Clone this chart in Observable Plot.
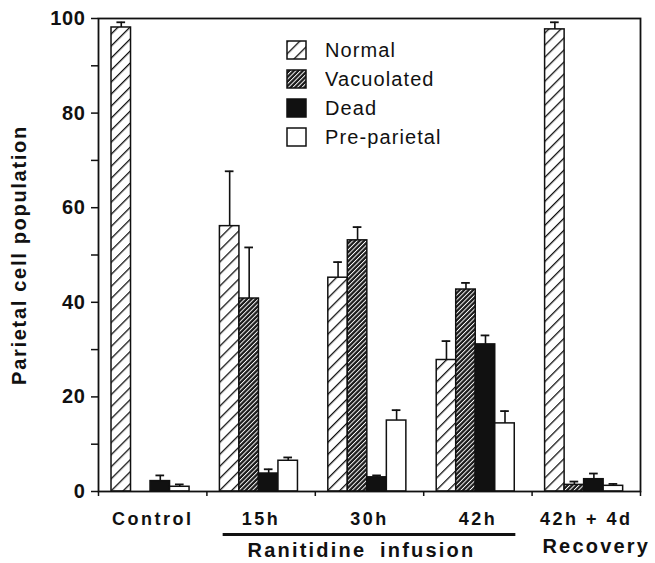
<!DOCTYPE html>
<html>
<head>
<meta charset="utf-8">
<script src="https://cdn.jsdelivr.net/npm/d3@7"></script>
<script src="https://cdn.jsdelivr.net/npm/@observablehq/plot@0.6"></script>
<style>
  body { margin: 0; background: #fff; }
  #wrap { position: relative; width: 655px; height: 563px; }
  #wrap > svg { font-family: 'Liberation Sans', Arial, Helvetica, sans-serif; font-size: 18px; font-weight: bold; color: #111; }
  #wrap g[aria-label="x-axis tick label"] text { letter-spacing: 2.5px; }
  #wrap g[aria-label="y-axis tick label"] text { font-size: 20px; letter-spacing: 0.6px; }
  #wrap g[aria-label="y-axis label"] text { font-size: 20px; letter-spacing: 1.7px; }
  #wrap g[aria-label="text"] text { font-size: 20px; letter-spacing: 2.2px; word-spacing: 6px; }
  #legend { position: absolute; left: 287px; top: 41px; }
  .lg-swatches { font-family: 'Liberation Sans', Arial, Helvetica, sans-serif !important; font-size: 20px !important; letter-spacing: 1.1px; color: #111; margin: 0 !important; }
  .lg-swatch { height: 18px; margin-bottom: 11px; padding-bottom: 0 !important; }
  .lg-swatch > svg { margin-right: 19px !important; }
  .lg-swatch rect { stroke: #111; stroke-width: 1.5px; }
</style>
</head>
<body>
<div id="wrap"></div>
<script>
// ---- data ----
const groups = ["Control", "15h", "30h", "42h", "42h + 4d"];
const series = ["Normal", "Vacuolated", "Dead", "Pre-parietal"];
const normal        = [98.1, 56.1, 45.2, 27.8, 97.7];
const normalErr     = [1.1, 11.6, 3.3, 4.0, 1.5];
const vacuolated    = [0, 40.8, 53.1, 42.7, 1.4];
const vacuolatedErr = [null, 10.8, 2.8, 1.4, 0.7];
const dead          = [2.2, 3.8, 3.0, 31.1, 2.6];
const deadErr       = [1.2, 0.9, 0.4, 1.9, 1.2];
const preParietal   = [1.0, 6.5, 15.0, 14.4, 1.2];
const preParietalErr= [0.5, 0.7, 2.2, 2.6, 0.4];
const yTicks = [0, 20, 40, 60, 80, 100];
const yMinorTicks = [10, 30, 50, 70, 90];
const yLabel = "Parietal cell population";
const annotations = [
  {text: "Ranitidine infusion", from: "15h", to: "42h", underline: true},
  {text: "Recovery", from: "42h + 4d", to: "42h + 4d", underline: false}
];
const fills = ["url(#hatch-normal)", "url(#hatch-vac)", "#111", "white"];

// ---- build table ----
const values = [normal, vacuolated, dead, preParietal];
const errs = [normalErr, vacuolatedErr, deadErr, preParietalErr];
const rows = [];
groups.forEach((g, gi) => series.forEach((s, si) => rows.push({
  group: g, gi, series: s, si, value: values[si][gi], err: errs[si][gi]
})));
const errRows = rows.filter(d => d.err != null);

// layout within each group (fractions of a group slot)
const barStart = 0.12, barW = 0.18, capHalf = 0.04;
const left = d => d.gi + barStart + d.si * barW;
const center = d => left(d) + barW / 2;
const boundaries = groups.map((g, i) => i).concat([groups.length]);
const centers = groups.map((g, i) => i + 0.5);
const annX = d => (groups.indexOf(d.from) + groups.indexOf(d.to) + 1) / 2;

function patternDefs() {
  const defs = document.createElementNS("http://www.w3.org/2000/svg", "defs");
  defs.innerHTML =
    `<pattern id="hatch-normal" patternUnits="userSpaceOnUse" width="8.5" height="8.5" patternTransform="rotate(45)">
       <rect width="8.5" height="8.5" fill="white"/><rect width="1.3" height="8.5" fill="#111"/>
     </pattern>
     <pattern id="hatch-vac" patternUnits="userSpaceOnUse" width="3.2" height="3.2" patternTransform="rotate(45)">
       <rect width="3.2" height="3.2" fill="#1a1a1a"/><rect width="0.95" height="3.2" fill="white"/>
     </pattern>`;
  return defs;
}

const chart = Plot.plot({
  width: 655,
  height: 563,
  marginTop: 18,
  marginRight: 15,
  marginBottom: 72,
  marginLeft: 98,
  x: {domain: [0, groups.length]},
  y: {domain: [0, 100]},
  color: {type: "ordinal", domain: series, range: fills},
  marks: [
    patternDefs,
    Plot.rect(rows, {x1: left, x2: d => left(d) + barW, y1: 0, y2: "value", fill: "series", stroke: "#111", strokeWidth: 1.5}),
    Plot.ruleX(errRows, {x: center, y1: "value", y2: d => d.value + d.err, stroke: "#111", strokeWidth: 1.6}),
    Plot.ruleY(errRows, {y: d => d.value + d.err, x1: d => center(d) - capHalf, x2: d => center(d) + capHalf, stroke: "#111", strokeWidth: 1.8}),
    Plot.frame({stroke: "#111", strokeWidth: 1.8}),
    Plot.axisY({ticks: yTicks, tickSize: 7, tickPadding: 6, strokeWidth: 1.5, label: yLabel, labelAnchor: "center", labelOffset: 87, labelArrow: "none"}),
    Plot.axisY({ticks: yMinorTicks, tickSize: 7, strokeWidth: 1.5, tickFormat: () => "", label: null}),
    Plot.axisX({ticks: boundaries, tickSize: 5, strokeWidth: 1.5, tickFormat: () => "", label: null}),
    Plot.axisX({ticks: centers, tickSize: 0, tickPadding: 21, tickFormat: v => groups[Math.floor(v)], label: null}),
    Plot.ruleY(annotations.filter(d => d.underline), {
      y: 0, dy: 43,
      x1: d => groups.indexOf(d.from) + 0.15,
      x2: d => groups.indexOf(d.to) + 0.85,
      stroke: "#111", strokeWidth: 3
    }),
    Plot.text(annotations.filter(d => d.underline), {x: annX, y: 0, dy: 59, dx: -8, text: "text", fill: "#111"}),
    Plot.text(annotations.filter(d => !d.underline), {x: annX, y: 0, dy: 55, dx: 10, text: "text", fill: "#111"})
  ]
});

document.getElementById("wrap").appendChild(chart);

const legend = chart.legend("color", {legend: "swatches", columns: 1, swatchWidth: 19, swatchHeight: 18, className: "lg"});
const legendBox = document.createElement("div");
legendBox.id = "legend";
legendBox.appendChild(legend);
document.getElementById("wrap").appendChild(legendBox);
</script>
</body>
</html>
